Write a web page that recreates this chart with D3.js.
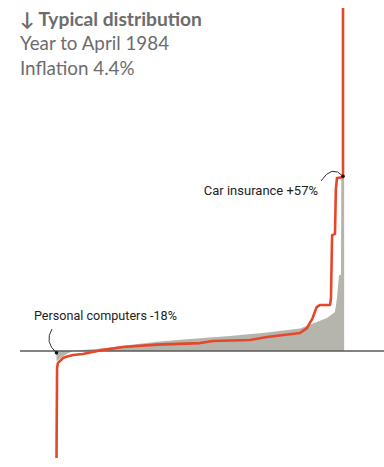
<!DOCTYPE html>
<html>
<head>
<meta charset="utf-8">
<script src="https://cdn.jsdelivr.net/npm/d3@7"></script>
<style>
  html, body { margin: 0; padding: 0; background: #fff; }
  #chart { width: 384px; height: 467px; }
</style>
</head>
<body>
<div id="chart"></div>
<script>
// --- data: items ranked by price change (rank as % of items), change in % ---
const redRank   = [0, 0.2, 0.5, 1.2, 2.3, 3.7, 5.8, 9.2, 15.2, 23.2, 35.1, 50.1, 54.6, 67.5, 73.5, 85, 87.4, 89.4, 90.8, 92, 95.5, 95.8, 96.2, 97.2, 97.5, 97.9, 99.8, 100, 100];
const redChange = [-35.1, -5.6, -3.9, -3.3, -2.3, -1.8, -1.3, -1.0, 0.2, 1.3, 2.1, 2.6, 3.3, 3.6, 4.6, 5.9, 7.5, 10.8, 14.4, 15.1, 15.1, 17.4, 38, 38.4, 52.8, 56.7, 57, 57, 112.5];

const greyRank   = [0, 0.5, 1.9, 4, 5.8, 9.2, 17.6, 23.2, 35.1, 46.6, 50.1, 61.6, 73.5, 85, 94.4, 97.2, 97.9, 98.6, 99.3, 99.4, 100.4, 100.4];
const greyChange = [-3.3, -3, -2, -0.7, 0, 0.3, 1, 1.7, 3, 3.9, 4.2, 5.0, 6.1, 7.4, 10.8, 12.8, 17.4, 24.9, 24.9, 56.7, 56.7, 0];

const titleLines = ["Year to April 1984", "Inflation 4.4%"];
const labels = [
  { name: "Personal computers -18%", rank: 0, change: -0.6 },
  { name: "Car insurance +57%", rank: 100, change: 57.3 }
];

// --- svg ---
const width = 384, height = 467;
const svg = d3.select("#chart").append("svg")
    .attr("width", width)
    .attr("height", height)
    .attr("viewBox", `0 0 ${width} ${height}`);

const x = d3.scaleLinear().domain([0, 100]).range([56.5, 343]);
const y = d3.scaleLinear().domain([-35, 112.5]).range([457.75, 7.9]);

const greyData = greyRank.map((r, i) => ({ r: r, v: greyChange[i] }));
const redData = redRank.map((r, i) => ({ r: r, v: redChange[i] }));

// grey area
svg.append("path")
    .datum(greyData)
    .attr("fill", "#b6b5ad")
    .attr("d", d3.area().x(d => x(d.r)).y0(y(0)).y1(d => y(d.v)));

// baseline
svg.append("line")
    .attr("x1", 20).attr("x2", width)
    .attr("y1", y(0)).attr("y2", y(0))
    .attr("stroke", "#5a5a5a")
    .attr("stroke-width", 1.6);

// red line
svg.append("path")
    .datum(redData)
    .attr("fill", "none")
    .attr("stroke", "#e5472b")
    .attr("stroke-width", 2.6)
    .attr("stroke-linejoin", "round")
    .attr("d", d3.line().x(d => x(d.r)).y(d => y(d.v)));

// title
const title = svg.append("g")
    .attr("font-family", "Lato, 'Noto Sans', sans-serif")
    .attr("fill", "#6c6c6c");
title.append("text")
    .attr("x", 20).attr("y", 26)
    .attr("font-size", 19.2)
    .attr("font-weight", "bold")
    .text("↓ Typical distribution");
title.selectAll(".sub")
    .data(titleLines)
    .enter()
    .append("text")
    .attr("class", "sub")
    .attr("x", 20)
    .attr("y", (d, i) => 50 + i * 25)
    .attr("font-size", 18.8)
    .text(d => d);

// annotations
const pc = labels[0], car = labels[1];
const pcX = x(pc.rank), pcY = y(pc.change);
const carX = x(car.rank), carY = y(car.change);

svg.append("text")
    .attr("x", 34).attr("y", 320)
    .attr("font-family", "Roboto, sans-serif")
    .attr("font-size", 12.6)
    .attr("fill", "#222")
    .text(pc.name);
svg.append("path")
    .attr("fill", "none")
    .attr("stroke", "#333")
    .attr("stroke-width", 1)
    .attr("d", `M52,329 Q44,342 ${pcX},${pcY}`);
svg.append("circle").attr("cx", pcX).attr("cy", pcY).attr("r", 1.8).attr("fill", "#111");

svg.append("text")
    .attr("x", 318).attr("y", 195)
    .attr("text-anchor", "end")
    .attr("font-family", "Roboto, sans-serif")
    .attr("font-size", 13)
    .attr("fill", "#222")
    .text(car.name);
svg.append("path")
    .attr("fill", "none")
    .attr("stroke", "#333")
    .attr("stroke-width", 1)
    .attr("d", `M321,181 Q332,164 ${carX},${carY}`);
svg.append("circle").attr("cx", carX).attr("cy", carY).attr("r", 1.8).attr("fill", "#111");
</script>
</body>
</html>
